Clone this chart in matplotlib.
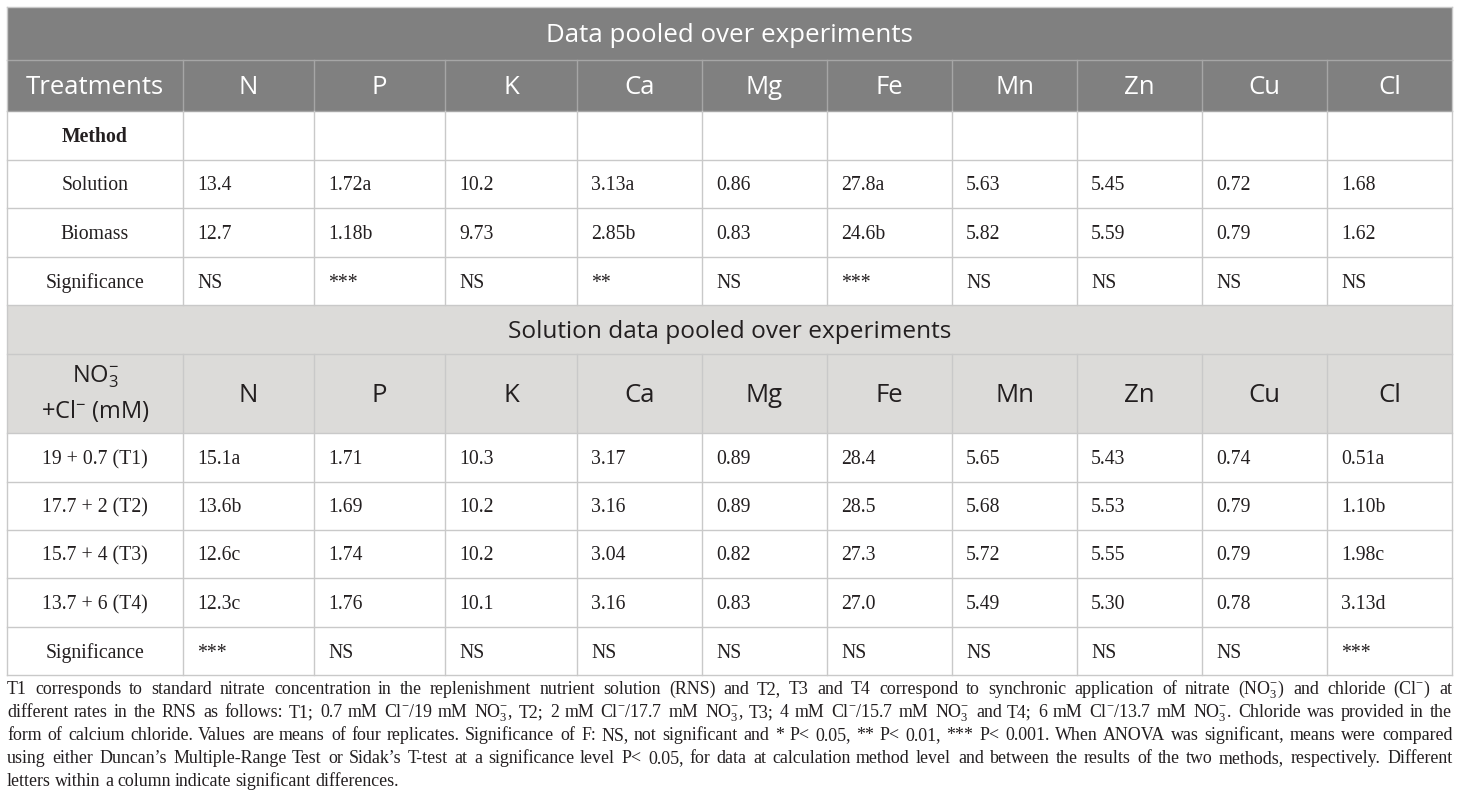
import matplotlib.pyplot as plt
from matplotlib.patches import Rectangle

plt.rcParams['mathtext.fontset'] = 'custom'
plt.rcParams['mathtext.rm'] = 'Liberation Serif'
plt.rcParams['mathtext.it'] = 'Liberation Serif:italic'
plt.rcParams['mathtext.sf'] = 'Open Sans'

# 数据
elements = ['N', 'P', 'K', 'Ca', 'Mg', 'Fe', 'Mn', 'Zn', 'Cu', 'Cl']
method_labels = ['Solution', 'Biomass', 'Significance']
solution = ['13.4', '1.72a', '10.2', '3.13a', '0.86', '27.8a', '5.63', '5.45', '0.72', '1.68']
biomass = ['12.7', '1.18b', '9.73', '2.85b', '0.83', '24.6b', '5.82', '5.59', '0.79', '1.62']
sig_method = ['NS', '***', 'NS', '**', 'NS', '***', 'NS', 'NS', 'NS', 'NS']

treat_labels = ['19 + 0.7 (T1)', '17.7 + 2 (T2)', '15.7 + 4 (T3)', '13.7 + 6 (T4)', 'Significance']
t1 = ['15.1a', '1.71', '10.3', '3.17', '0.89', '28.4', '5.65', '5.43', '0.74', '0.51a']
t2 = ['13.6b', '1.69', '10.2', '3.16', '0.89', '28.5', '5.68', '5.53', '0.79', '1.10b']
t3 = ['12.6c', '1.74', '10.2', '3.04', '0.82', '27.3', '5.72', '5.55', '0.79', '1.98c']
t4 = ['12.3c', '1.76', '10.1', '3.16', '0.83', '27.0', '5.49', '5.30', '0.78', '3.13d']
sig_treat = ['***', 'NS', 'NS', 'NS', 'NS', 'NS', 'NS', 'NS', 'NS', '***']

title1 = 'Data pooled over experiments'
title2 = 'Solution data pooled over experiments'

# 脚注（逐行，两端对齐）
foot_lines = [
    'T1 corresponds to standard nitrate concentration in the replenishment nutrient solution (RNS) and T2, T3 and T4 '
    'correspond to synchronic application of nitrate (NO$_3^{-}$) and chloride (Cl$^{-}$) at',
    'different rates in the RNS as follows: T1; 0.7 mM Cl$^{-}$/19 mM NO$_3^{-}$, T2; 2 mM Cl$^{-}$/17.7 mM NO$_3^{-}$, '
    'T3; 4 mM Cl$^{-}$/15.7 mM NO$_3^{-}$ and T4; 6 mM Cl$^{-}$/13.7 mM NO$_3^{-}$. Chloride was provided in the',
    'form of calcium chloride. Values are means of four replicates. Significance of F: NS, not significant and * P< 0.05, '
    '** P< 0.01, *** P< 0.001. When ANOVA was significant, means were compared',
    'using either Duncan\u2019s Multiple-Range Test or Sidak\u2019s T-test at a significance level P< 0.05, for data at '
    'calculation method level and between the results of the two methods, respectively. Different',
    'letters within a column indicate significant differences.',
]

# 版面（像素）
col_x = [7, 183, 314, 445, 577, 702, 827, 952, 1077, 1202, 1327, 1452]
row_y = [7, 60, 111, 160, 208, 257, 305, 354, 433, 482, 530, 578, 627, 675]
DARK = '#808080'
LIGHT = '#dcdbd9'
GRID = '#c9c9c9'
TXT = '#231f20'
SANS = 'Open Sans'
SERIF = 'Liberation Serif'
BODY_FS = 14.2

fig = plt.figure(figsize=(14.6, 8.11), dpi=100)
ax = fig.add_axes([0, 0, 1, 1])
ax.set_xlim(0, 1460)
ax.set_ylim(811, 0)
ax.axis('off')

L, R = col_x[0], col_x[-1]

# 背景
ax.add_patch(Rectangle((L, row_y[0]), R - L, row_y[2] - row_y[0], color=DARK, lw=0))
ax.add_patch(Rectangle((L, row_y[6]), R - L, row_y[8] - row_y[6], color=LIGHT, lw=0))

# 横线
for i, y in enumerate(row_y):
    c = '#a6a6a6' if i in (1, 2) else GRID
    ax.plot([L, R], [y, y], color=c, lw=1)
# 竖线
for x in col_x:
    if x in (L, R):
        ax.plot([x, x], [row_y[0], row_y[-1]], color=GRID, lw=1)
        continue
    ax.plot([x, x], [row_y[1], row_y[2]], color='#a6a6a6', lw=1)
    ax.plot([x, x], [row_y[2], row_y[6]], color=GRID, lw=1)
    ax.plot([x, x], [row_y[7], row_y[-1]], color=GRID, lw=1)

def ymid(i):
    return (row_y[i] + row_y[i + 1]) / 2

def xmid(j):
    return (col_x[j] + col_x[j + 1]) / 2

# 标题行
ax.text((L + R) / 2, ymid(0) + 2.5, title1, family=SANS, fontsize=18.6, color='white', ha='center', va='center')
ax.text((L + R) / 2, ymid(6) + 2, title2, family=SANS, fontsize=17.6, color=TXT, ha='center', va='center')

# 表头
ax.text(xmid(0), ymid(1) + 2, 'Treatments', family=SANS, fontsize=18.5, color='white', ha='center', va='center')
ax.text(xmid(0), ymid(7) - 17, r'NO$_{\mathsf{3}}^{\mathsf{-}}$', family=SANS, fontsize=17,
        color=TXT, ha='center', va='center')
ax.text(xmid(0), ymid(7) + 18, r'+Cl$^{\mathsf{-}}$ (mM)', family=SANS, fontsize=17,
        color=TXT, ha='center', va='center')
for j, el in enumerate(elements):
    ax.text(xmid(j + 1), ymid(1) + 2, el, family=SANS, fontsize=18.5, color='white', ha='center', va='center')
    ax.text(xmid(j + 1), ymid(7) + 2, el, family=SANS, fontsize=18.5, color=TXT, ha='center', va='center')

ax.text(xmid(0), ymid(2) + 2, 'Method', family=SERIF, fontsize=BODY_FS, weight='bold', color=TXT,
        ha='center', va='center')

# 第一部分数据
for i, (lab, vals) in enumerate(zip(method_labels, [solution, biomass, sig_method])):
    r = 3 + i
    ax.text(xmid(0), ymid(r) + 2, lab, family=SERIF, fontsize=BODY_FS, color=TXT, ha='center', va='center')
    for j, v in enumerate(vals):
        ax.text(col_x[j + 1] + 14, ymid(r) + 2, v, family=SERIF, fontsize=BODY_FS, color=TXT,
                ha='left', va='center')

# 第二部分数据
for i, (lab, vals) in enumerate(zip(treat_labels, [t1, t2, t3, t4, sig_treat])):
    r = 8 + i
    ax.text(xmid(0), ymid(r) + 2, lab, family=SERIF, fontsize=BODY_FS, color=TXT, ha='center', va='center')
    for j, v in enumerate(vals):
        ax.text(col_x[j + 1] + 14, ymid(r) + 2, v, family=SERIF, fontsize=BODY_FS, color=TXT,
                ha='left', va='center')

# 脚注：逐词放置，两端对齐
renderer = fig.canvas.get_renderer()
base_y = 694
for k, line in enumerate(foot_lines):
    words = line.split(' ')
    texts = [ax.text(0, base_y + 23 * k, w, family=SERIF, fontsize=12.9, color=TXT, va='baseline')
             for w in words]
    widths = [t.get_window_extent(renderer).width for t in texts]
    if k < len(foot_lines) - 1:
        gap = (R - L - sum(widths)) / (len(words) - 1)
    else:
        gap = 4.2
    x = L
    for t, w in zip(texts, widths):
        t.set_x(round(x))
        x += w + gap

fig.savefig('out.png', dpi=100, facecolor='white')
